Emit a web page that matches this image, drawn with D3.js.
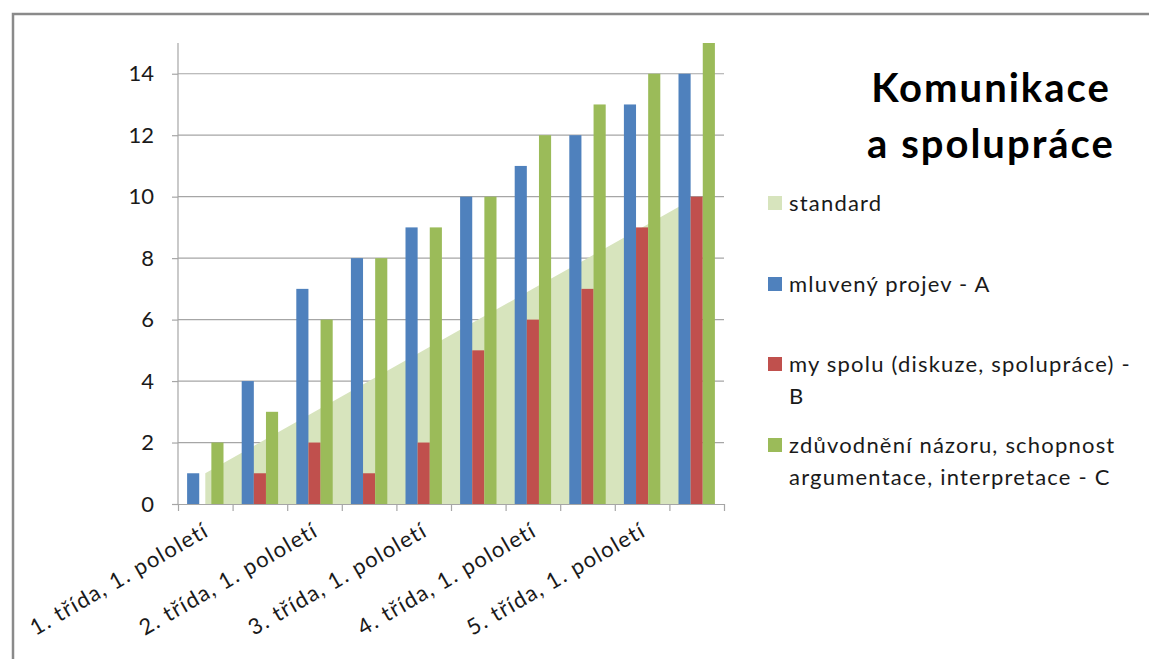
<!DOCTYPE html>
<html>
<head>
<meta charset="utf-8">
<script src="https://cdn.jsdelivr.net/npm/d3@7"></script>
<style>
  html, body { margin: 0; padding: 0; background: #fff; }
  svg { display: block; font-family: Lato, "Open Sans", sans-serif; }
</style>
</head>
<body>
<svg id="chart" width="1149" height="659"></svg>
<script>
// Hodnocení kompetence "Komunikace a spolupráce" po pololetích
const categories = [
  "1. třída, 1. pololetí", "1. třída, 2. pololetí",
  "2. třída, 1. pololetí", "2. třída, 2. pololetí",
  "3. třída, 1. pololetí", "3. třída, 2. pololetí",
  "4. třída, 1. pololetí", "4. třída, 2. pololetí",
  "5. třída, 1. pololetí", "5. třída, 2. pololetí"
];
const standard = [1, 2, 3, 4, 5, 6, 7, 8, 9, 10];
const mluvenyProjev = [1, 4, 7, 8, 9, 10, 11, 12, 13, 14];
const mySpolu = [0, 1, 2, 1, 2, 5, 6, 7, 9, 10];
const zduvodneni = [2, 3, 6, 8, 9, 10, 12, 13, 14, 15];
const yTicks = [0, 2, 4, 6, 8, 10, 12, 14];

const seriesNames = ["mluvený projev - A", "my spolu (diskuze, spolupráce) - B",
  "zdůvodnění názoru, schopnost argumentace, interpretace - C"];
const barSeries = [mluvenyProjev, mySpolu, zduvodneni];
const barColors = ["#4F81BD", "#C0504D", "#9BBB59"];
const standardColor = "#D7E4BD";

const svg = d3.select("#chart");

// rámeček grafu
svg.append("path")
  .attr("d", "M13,700 L13,14 L1200,14")
  .attr("fill", "none").attr("stroke", "#8a8a8a").attr("stroke-width", 2.5);

const plotLeft = 178, plotRight = 724, plotTop = 43, plotBottom = 504;

const x = d3.scaleBand().domain(categories).range([plotLeft, plotRight]).padding(0);
const xIdx = d3.scaleLinear().domain([0, categories.length]).range([plotLeft, plotRight]);
const y = d3.scaleLinear().domain([0, 15]).range([plotBottom, plotTop]);

// skupina tří sloupců v kategorii, mezera 150 % šířky sloupce
const bw = x.bandwidth() / 4.5;
const inner = d3.scaleBand().domain([0, 1, 2]).range([0.75 * bw, 3.75 * bw]).padding(0);

// vodorovná mřížka
svg.append("g")
  .selectAll("line")
  .data(yTicks.filter(d => d > 0))
  .join("line")
  .attr("x1", plotLeft).attr("x2", plotRight)
  .attr("y1", d => y(d)).attr("y2", d => y(d))
  .attr("stroke", "#a6a6a6").attr("stroke-width", 1.2);

// plocha standardu
const area = d3.area()
  .x((d, i) => x(categories[i]) + x.bandwidth() / 2)
  .y0(y(0))
  .y1(d => y(d));
svg.append("path")
  .datum(standard)
  .attr("d", area)
  .attr("fill", standardColor);

// sloupce
barSeries.forEach((vals, s) => {
  svg.append("g")
    .selectAll("rect")
    .data(vals)
    .join("rect")
    .attr("x", (d, i) => x(categories[i]) + inner(s))
    .attr("y", d => y(d))
    .attr("width", inner.bandwidth())
    .attr("height", d => y(0) - y(d))
    .attr("fill", barColors[s]);
});

// osa Y
const yAxis = svg.append("g")
  .attr("transform", `translate(${plotLeft},0)`)
  .call(d3.axisLeft(y).tickValues(yTicks).tickSize(6).tickPadding(18).tickSizeOuter(0));
yAxis.select(".domain").attr("stroke", "#a6a6a6").attr("stroke-width", 1.2).attr("d", `M0,${plotTop}V${plotBottom}`);
yAxis.selectAll(".tick line").attr("stroke", "#a6a6a6").attr("stroke-width", 1.2);
yAxis.selectAll(".tick text").attr("font-size", 22).attr("fill", "#1a1a1a").attr("font-family", "Lato");

// osa X – značky na hranicích kategorií
const xTickAxis = svg.append("g")
  .attr("transform", `translate(0,${plotBottom})`)
  .call(d3.axisBottom(xIdx).tickValues(d3.range(categories.length + 1)).tickSize(7).tickSizeOuter(0).tickFormat(""));
xTickAxis.select(".domain").attr("stroke", "#a6a6a6").attr("stroke-width", 1.2);
xTickAxis.selectAll(".tick line").attr("stroke", "#a6a6a6").attr("stroke-width", 1.2);

// popisky kategorií (každý druhý)
const xLabelAxis = svg.append("g")
  .attr("transform", `translate(0,${plotBottom})`)
  .call(d3.axisBottom(x).tickSize(0).tickFormat((d, i) => i % 2 === 0 ? d : ""));
xLabelAxis.select(".domain").remove();
xLabelAxis.selectAll(".tick text")
  .attr("font-size", 22).attr("fill", "#1a1a1a").attr("font-family", "Lato")
  .attr("letter-spacing", 1.3)
  .attr("text-anchor", "end")
  .attr("dy", null).attr("y", null)
  .attr("transform", "translate(5,31) rotate(-30)");

// nadpis
const title = svg.append("text")
  .attr("text-anchor", "middle")
  .attr("font-weight", "bold").attr("font-size", 40).attr("fill", "#000")
  .attr("font-family", "Lato").attr("letter-spacing", 2);
title.append("tspan").attr("x", 991).attr("y", 102).text("Komunikace");
title.append("tspan").attr("x", 991).attr("y", 158).text("a spolupráce");

// legenda
const legendItems = [
  { name: "standard", color: standardColor, lines: ["standard"], y: 203 },
  { name: seriesNames[0], color: barColors[0], lines: ["mluvený projev - A"], y: 284 },
  { name: seriesNames[1], color: barColors[1], lines: ["my spolu (diskuze, spolupráce) -", "B"], y: 364 },
  { name: seriesNames[2], color: barColors[2], lines: ["zdůvodnění názoru, schopnost", "argumentace, interpretace - C"], y: 445 }
];
const legend = svg.append("g");
legendItems.forEach(item => {
  legend.append("rect")
    .attr("x", 768).attr("y", item.y - 7).attr("width", 14).attr("height", 14)
    .attr("fill", item.color);
  const t = legend.append("text")
    .attr("font-size", 22).attr("fill", "#1a1a1a").attr("font-family", "Lato")
    .attr("letter-spacing", 1.2);
  item.lines.forEach((ln, k) => {
    t.append("tspan").attr("x", 789).attr("y", item.y + 8 + k * 32).text(ln);
  });
});
</script>
</body>
</html>
